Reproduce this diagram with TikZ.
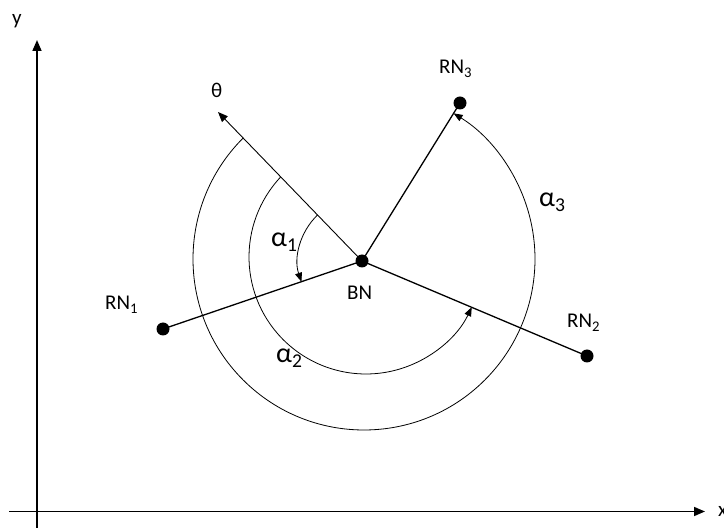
\documentclass[tikz,border=0pt]{standalone}
\usepackage{fontspec}
\setmainfont{Carlito}
\usetikzlibrary{arrows.meta,calc}
\begin{document}
\begin{tikzpicture}[x=1pt,y=1pt,
  lbl/.style={anchor=base west,inner sep=0pt,font=\fontsize{21}{24}\selectfont},
  albl/.style={anchor=base west,inner sep=0pt,font=\fontsize{28}{30}\selectfont},
  dotnode/.style={circle,fill=black,inner sep=0pt,minimum size=13pt},
  link/.style={line width=1.3pt},
  axisline/.style={line width=1.6pt,-{Triangle[length=11pt,width=9pt]}},
  dirline/.style={line width=0.9pt,-{Triangle[length=10pt,width=8pt]}},
  arcarrow/.style={line width=0.8pt,-{Triangle[length=9pt,width=7pt]}}]
\useasboundingbox (0,0) rectangle (724,528);
% axes
\coordinate (ybot) at (37,0);
\coordinate (ytop) at (37,488);
\coordinate (xleft) at (9,16.5);
\coordinate (xright) at (705,16.5);
\draw[axisline] (ybot) -- (ytop);
\draw[axisline] (xleft) -- (xright);
\node[lbl] (ylab) at (12,503) {y};
\node[lbl] (xlab) at (718,11) {x};
% nodes
\node[dotnode] (BN) at (362,267) {};
\node[dotnode] (RN1) at (163,199) {};
\node[dotnode] (RN2) at (587,172) {};
\node[dotnode] (RN3) at (460,425) {};
\coordinate (thtip) at (218,416);
\coordinate (C2) at (366,271);
\coordinate (C3) at (364,269);
% links
\draw[link] (BN.center) -- (RN1.center);
\draw[link] (BN.center) -- (RN2.center);
\draw[link] (BN.center) -- (RN3.center);
\draw[dirline] (BN.center) -- (thtip);
% arcs
\draw[arcarrow] ($(BN.center)+(134:64)$) arc[start angle=134,end angle=198.9,radius=64];
\draw[arcarrow] ($(C2)+(136.8:117)$) arc[start angle=136.8,end angle=334.6,radius=117];
\draw[arcarrow] ($(C3)+(135:171)$) arc[start angle=135,end angle=418.4,radius=171];
% labels
\node[lbl] (thlab) at (211,430) {θ};
\node[lbl] (RN1lab) at (105,218) {RN\textsubscript{1}};
\node[lbl] (RN2lab) at (567,200) {RN\textsubscript{2}};
\node[lbl] (RN3lab) at (439,454) {RN\textsubscript{3}};
\node[lbl] (BNlab) at (347,228) {BN};
\node[albl] (a1lab) at (271,281) {α\textsubscript{1}};
\node[albl] (a2lab) at (276,165) {α\textsubscript{2}};
\node[albl] (a3lab) at (539,321) {α\textsubscript{3}};
\end{tikzpicture}
\end{document}
